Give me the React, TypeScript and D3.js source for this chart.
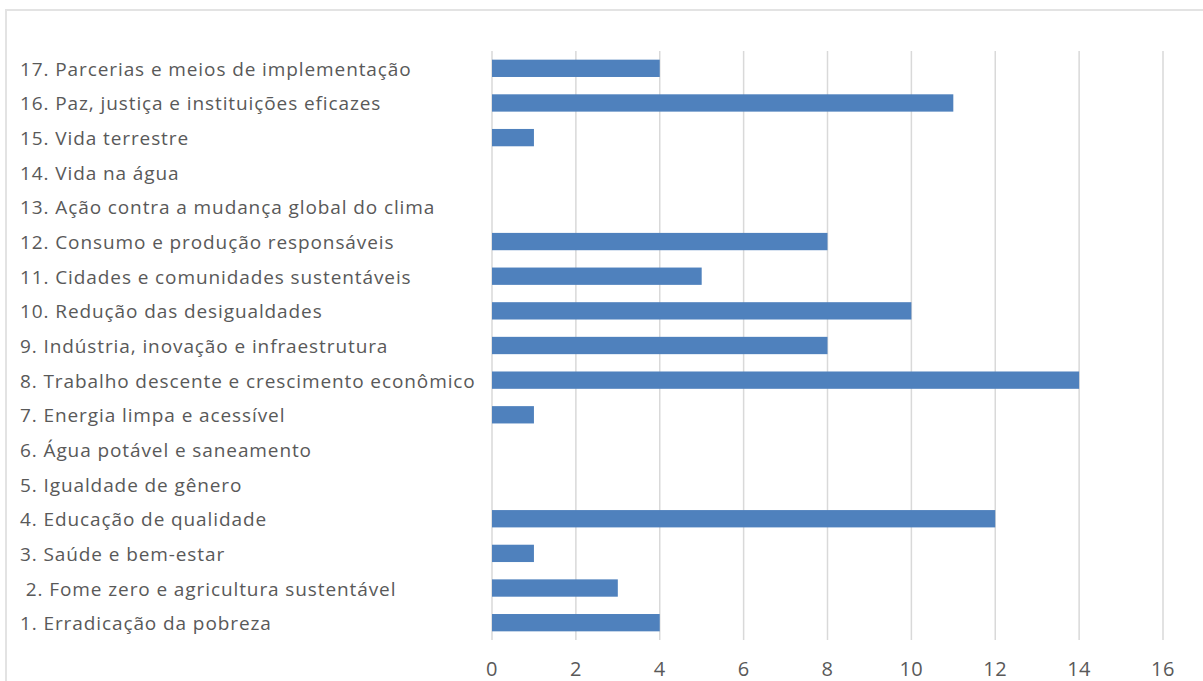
import React from "react";
import * as d3 from "d3";

const categories: string[] = [
  "1. Erradicação da pobreza",
  " 2. Fome zero e agricultura sustentável",
  "3. Saúde e bem-estar",
  "4. Educação de qualidade",
  "5. Igualdade de gênero",
  "6. Água potável e saneamento",
  "7. Energia limpa e acessível",
  "8. Trabalho descente e crescimento econômico",
  "9. Indústria, inovação e infraestrutura",
  "10. Redução das desigualdades",
  "11. Cidades e comunidades sustentáveis",
  "12. Consumo e produção responsáveis",
  "13. Ação contra a mudança global do clima",
  "14. Vida na água",
  "15. Vida terrestre",
  "16. Paz, justiça e instituições eficazes",
  "17. Parcerias e meios de implementação",
];
const values: number[] = [4, 3, 1, 12, 0, 0, 1, 14, 8, 10, 5, 8, 0, 0, 1, 11, 4];
const xTicks: number[] = [0, 2, 4, 6, 8, 10, 12, 14, 16];

const W = 1203;
const H = 681;
const plotLeft = 492;
const plotRight = 1163;
const plotTop = 51;
const plotBottom = 640;
const font = "'Open Sans', sans-serif";
const textColor = "#595959";

export default function App() {
  const x = d3.scaleLinear().domain([0, 16]).range([plotLeft, plotRight]);
  const y = d3
    .scaleBand<string>()
    .domain([...categories].reverse())
    .range([plotTop, plotBottom])
    .paddingInner(0.5)
    .paddingOuter(0.25);

  return (
    <svg
      width={W}
      height={H}
      style={{ position: "absolute", left: 0, top: 0, background: "#fff" }}
    >
      <rect x={0} y={0} width={W} height={H} fill="#fff" />
      <line x1={5} x2={W} y1={10} y2={10} stroke="#e3e3e3" strokeWidth={2} />
      <line x1={6} x2={6} y1={10} y2={H} stroke="#e3e3e3" strokeWidth={2} />
      {xTicks.map((t) => (
        <line
          key={"g" + t}
          x1={x(t)}
          x2={x(t)}
          y1={plotTop}
          y2={plotBottom}
          stroke="#d9d9d9"
          strokeWidth={1.5}
        />
      ))}
      {categories.map((c, i) => (
        <rect
          key={"b" + i}
          x={x(0)}
          y={y(c)!}
          width={x(values[i]) - x(0)}
          height={y.bandwidth()}
          fill="#4F81BD"
        />
      ))}
      {categories.map((c, i) => (
        <text
          key={"l" + i}
          x={20}
          y={y(c)! + y.bandwidth() / 2 + 7.5}
          fontFamily={font}
          fontSize={19}
          letterSpacing={0.9}
          fill={textColor}
          style={{ whiteSpace: "pre" }}
        >
          {c}
        </text>
      ))}
      {xTicks.map((t) => (
        <text
          key={"t" + t}
          x={x(t)}
          y={676}
          textAnchor="middle"
          fontFamily={font}
          fontSize={20}
          letterSpacing={0.5}
          fill={textColor}
        >
          {t}
        </text>
      ))}
    </svg>
  );
}
